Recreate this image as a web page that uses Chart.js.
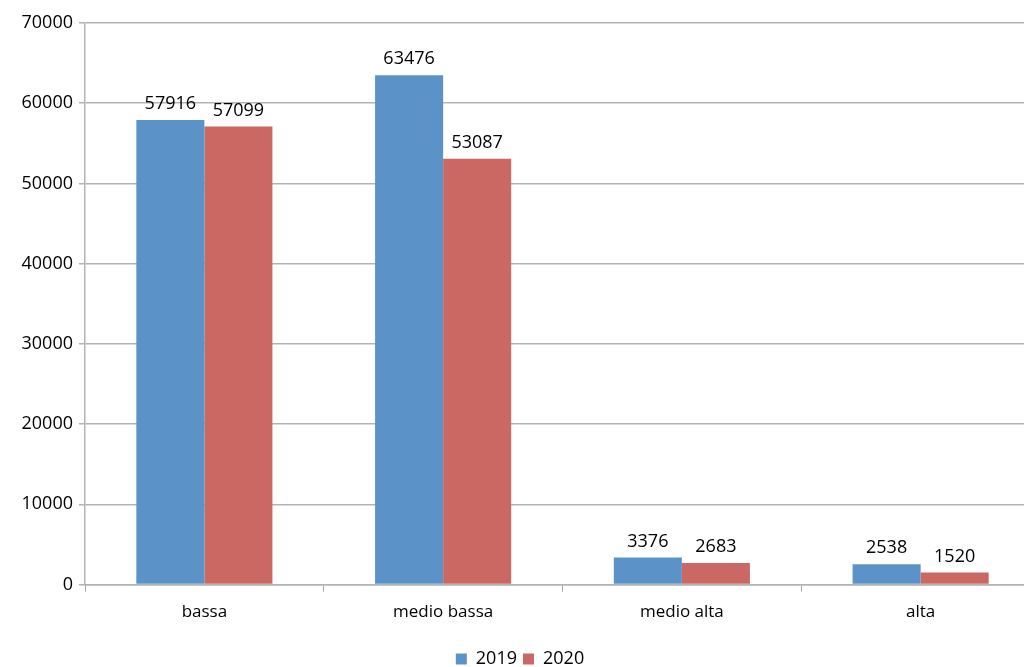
<!DOCTYPE html>
<html lang="it">
  <head>
    <meta charset="UTF-8" />
    <title>2019 vs 2020</title>
    <script src="https://cdn.jsdelivr.net/npm/chart.js"></script>
    <style>
      html, body {
        margin: 0;
        padding: 0;
        background: #ffffff;
        overflow: hidden;
      }
      #wrap {
        width: 1024px;
        height: 667px;
        overflow: hidden;
      }
    </style>
  </head>
  <body>
    <div id="wrap">
      <canvas id="chart" width="1040" height="667"></canvas>
    </div>

    <script>
      const categories = ['bassa', 'medio bassa', 'medio alta', 'alta'];
      const values2019 = [57916, 63476, 3376, 2538];
      const values2020 = [57099, 53087, 2683, 1520];
      const yTicks = [0, 10000, 20000, 30000, 40000, 50000, 60000, 70000];

      const FONT = "'Open Sans', 'Noto Sans', sans-serif";

      // writes each bar's value just above it
      const valueLabels = {
        id: 'valueLabels',
        afterDatasetsDraw(chart) {
          const ctx = chart.ctx;
          ctx.save();
          ctx.font = '18px ' + FONT;
          ctx.fillStyle = '#000000';
          ctx.textAlign = 'center';
          ctx.textBaseline = 'bottom';
          chart.data.datasets.forEach((ds, i) => {
            chart.getDatasetMeta(i).data.forEach((bar, j) => {
              ctx.fillText(String(ds.data[j]), bar.x, bar.y - 7);
            });
          });
          ctx.restore();
        }
      };

      new Chart(document.getElementById('chart'), {
        type: 'bar',
        data: {
          labels: categories,
          datasets: [
            {
              label: '2019',
              data: values2019,
              backgroundColor: '#5b93c8'
            },
            {
              label: '2020',
              data: values2020,
              backgroundColor: '#cb6863'
            }
          ]
        },
        plugins: [valueLabels],
        options: {
          responsive: false,
          animation: false,
          layout: {
            padding: { top: 23, right: 0, bottom: -11, left: 0 }
          },
          datasets: {
            bar: {
              categoryPercentage: 0.57,
              barPercentage: 1
            }
          },
          scales: {
            x: {
              grid: {
                offset: true,
                drawOnChartArea: false,
                drawTicks: true,
                tickLength: 7,
                color: '#a6a6a6'
              },
              border: { color: '#b3b3b3', width: 1.5 },
              ticks: {
                color: '#000000',
                font: { family: FONT, size: 17 },
                padding: 10
              },
              afterFit(scale) {
                scale.height += 12;
              }
            },
            y: {
              min: 0,
              max: 70000,
              afterBuildTicks(scale) {
                scale.ticks = yTicks.map(v => ({ value: v }));
              },
              afterFit(scale) {
                scale.width = 85;
              },
              grid: {
                color: '#b3b3b3',
                lineWidth: 1.5,
                tickLength: 6
              },
              border: { color: '#b3b3b3', width: 1.5 },
              ticks: {
                color: '#000000',
                font: { family: FONT, size: 18 },
                padding: 6,
                callback: v => String(v)
              }
            }
          },
          plugins: {
            tooltip: { enabled: false },
            legend: {
              position: 'bottom',
              labels: {
                boxWidth: 11,
                boxHeight: 11,
                padding: 6,
                color: '#000000',
                font: { family: FONT, size: 18 }
              }
            }
          }
        }
      });
    </script>
  </body>
</html>
